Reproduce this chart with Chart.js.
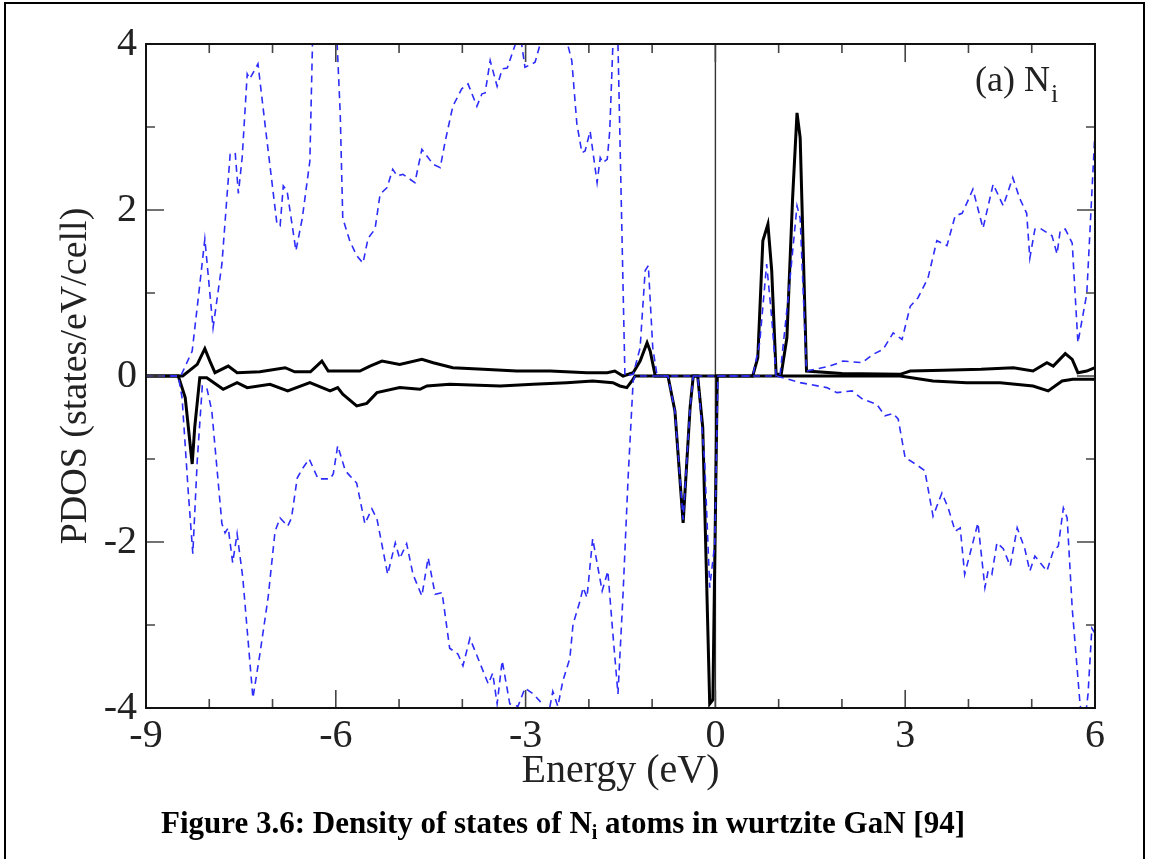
<!DOCTYPE html>
<html>
<head>
<meta charset="utf-8">
<title>PDOS of Ni in wurtzite GaN</title>
<script src="https://cdn.jsdelivr.net/npm/chart.js@4/dist/chart.umd.min.js"></script>
<style>
  html, body { margin: 0; padding: 0; background: #fff; overflow: hidden; }
  #wrap { position: relative; width: 1150px; height: 859px; }
  #frame { position: absolute; left: 4px; top: 2px; width: 1141px; height: 900px;
           border: 2px solid #000; box-sizing: border-box; }
  #pdos { position: absolute; left: 0; top: 0; }
  .serif { font-family: "Liberation Serif", "Times New Roman", serif; color: #222; }
  #tag { position: absolute; left: 975px; top: 61px; font-size: 36px; line-height: 36px; white-space: nowrap; }
  #tag .sub { font-size: 26px; position: relative; top: 11px; margin-left: 1px; }
  #caption { position: absolute; left: 0; width: 1126px; top: 806px; text-align: center;
             font-size: 31px; line-height: 34px; font-weight: bold; color: #000; white-space: nowrap; }
  #caption .sub { font-size: 20px; position: relative; top: 6px; }
</style>
</head>
<body>
<div id="wrap">
  <div id="frame"></div>
  <canvas id="pdos" width="1150" height="859"></canvas>
  <div id="tag" class="serif">(a) N<span class="sub">i</span></div>
  <div id="caption" class="serif">Figure 3.6: Density of states of N<span class="sub">i</span> atoms in wurtzite GaN [94]</div>
</div>
<script>
// axis ticks
const xTicks = [-9, -6, -3, 0, 3, 6];
const yTicks = [-4, -2, 0, 2, 4];

// blue dashed, spin up
const blueUpE = [-9, -8.45, -8.27, -8.15, -8.07, -7.94, -7.80, -7.67, -7.59, -7.54, -7.48, -7.40, -7.36, -7.23, -7.12,
  -6.93, -6.88, -6.83, -6.77, -6.63, -6.53, -6.41, -6.36, -6.2, -6.05, -5.99, -5.93, -5.89, -5.78, -5.67, -5.57,
  -5.49, -5.38, -5.30, -5.19, -5.10, -5.03, -4.94, -4.75, -4.64, -4.56, -4.46, -4.35, -4.27, -4.15, -4.01, -3.91,
  -3.77, -3.69, -3.64, -3.56, -3.45, -3.37, -3.29, -3.17, -3.10, -3.01, -2.90, -2.85, -2.77, -2.6, -2.4, -2.33,
  -2.27, -2.19, -2.11, -2.06, -1.98, -1.87, -1.82, -1.78, -1.71, -1.67, -1.62, -1.58, -1.54, -1.43, -1.30, -1.19,
  -1.11, -1.06, -0.99, -0.92, 0.59, 0.70, 0.81, 0.89, 0.96, 1.02, 1.15, 1.29, 1.34, 1.44, 1.81, 2.02, 2.32, 2.49,
  2.65, 2.81, 2.95, 3.08, 3.20, 3.36, 3.50, 3.66, 3.79, 3.90, 3.99, 4.07, 4.23, 4.39, 4.55, 4.70, 4.81, 4.92, 4.97,
  5.05, 5.13, 5.32, 5.40, 5.45, 5.53, 5.64, 5.73, 5.87, 6.0];
const blueUpPDOS = [0, 0, 0.30, 1.10, 1.65, 0.58, 1.35, 2.67, 2.69, 2.20, 2.63, 3.64, 3.58, 3.76, 3.04,
  1.83, 1.81, 2.29, 2.23, 1.51, 1.90, 2.59, 4.3, 5.5, 4.6, 4.2, 3.16, 1.90, 1.63, 1.45, 1.36,
  1.66, 1.77, 2.19, 2.27, 2.49, 2.41, 2.43, 2.33, 2.73, 2.65, 2.55, 2.51, 2.83, 3.25, 3.46, 3.52,
  3.25, 3.40, 3.41, 3.80, 3.49, 3.70, 3.71, 3.98, 4.2, 3.72, 3.76, 3.78, 4.0, 4.6, 4.5, 3.98,
  3.80, 3.04, 2.69, 2.71, 2.95, 2.33, 2.63, 2.57, 2.61, 2.95, 4.0, 4.8, 4.0, 0, 0.02, 0.34,
  1.27, 1.33, 0.34, 0, 0, 0.40, 1.35, 0.70, 0, 0, 0.94, 2.05, 1.90, 0.06, 0.12, 0.18, 0.16, 0.26,
  0.32, 0.52, 0.44, 0.84, 0.94, 1.18, 1.63, 1.57, 1.93, 1.96, 2.11, 2.25, 1.78, 2.31, 2.05, 2.39, 2.14, 1.96, 1.42,
  1.77, 1.78, 1.69, 1.47, 1.75, 1.77, 1.60, 0.40, 0.99, 2.95];

// blue dashed, spin down
const blueDnE = [-9, -8.49, -8.43, -8.33, -8.26, -8.19, -8.11, -8.04, -7.96, -7.80, -7.75, -7.70, -7.63, -7.56, -7.47,
  -7.31, -7.20, -7.07, -6.96, -6.88, -6.76, -6.70, -6.61, -6.53, -6.42, -6.28, -6.09, -6.04, -5.97, -5.85, -5.78,
  -5.67, -5.54, -5.43, -5.35, -5.18, -5.06, -4.99, -4.88, -4.78, -4.64, -4.54, -4.43, -4.32, -4.20, -4.07, -3.99,
  -3.88, -3.69, -3.59, -3.52, -3.45, -3.37, -3.25, -3.12, -3.01, -2.88, -2.77, -2.67, -2.57, -2.49, -2.41, -2.30,
  -2.25, -2.14, -2.09, -2.03, -1.94, -1.79, -1.70, -1.62, -1.54, -1.46, -1.38, -1.30, -1.27, -0.75, -0.64, -0.51,
  -0.40, -0.35, -0.28, -0.17, -0.09, -0.01, 0.04, 0.97, 1.34, 1.76, 1.92, 2.16, 2.33, 2.55, 2.68, 2.81, 2.89, 3.00,
  3.08, 3.20, 3.31, 3.44, 3.58, 3.68, 3.79, 3.87, 3.94, 4.15, 4.26, 4.31, 4.37, 4.45, 4.55, 4.66, 4.77, 4.89, 4.97,
  5.05, 5.24, 5.34, 5.42, 5.50, 5.56, 5.64, 5.76, 5.82, 5.89, 5.95, 6.0];
const blueDnPDOS = [0, 0, -0.26, -1.42, -2.14, -1.02, -0.12, -0.14, -0.42, -1.78, -1.89, -1.83, -2.25, -1.90, -2.43,
  -3.88, -3.35, -2.67, -1.87, -1.71, -1.81, -1.71, -1.23, -1.12, -1.00, -1.24, -1.24, -1.18, -0.84, -1.14, -1.20,
  -1.29, -1.78, -1.60, -1.72, -2.39, -2.01, -2.20, -2.02, -2.39, -2.65, -2.19, -2.63, -2.61, -3.28, -3.35, -3.49,
  -3.16, -3.52, -3.71, -3.58, -3.95, -3.43, -3.95, -3.98, -3.76, -3.83, -3.92, -4.2, -3.80, -3.98, -3.67, -3.40,
  -2.99, -2.71, -2.55, -2.67, -1.96, -2.59, -2.35, -3.11, -3.83, -2.63, -1.23, -0.06, 0, 0, -0.42, -1.73,
  -0.38, 0, 0, -1.02, -2.55, -2.02, 0, 0, -0.08, -0.14, -0.20, -0.18, -0.28, -0.34, -0.48, -0.45, -0.52, -0.99,
  -1.02, -1.08, -1.14, -1.69, -1.41, -1.59, -1.87, -1.83, -2.39, -1.77, -2.55, -2.35, -2.39, -2.01, -2.08, -2.29, -1.83, -2.08, -2.35,
  -2.17, -2.35, -2.11, -2.05, -1.59, -1.71, -2.80, -3.92, -4.3, -3.83, -3.04, -3.10];

// black solid, spin up
const blackUpE = [-9, -8.42, -8.19, -8.07, -7.99, -7.91, -7.70, -7.56, -7.20, -6.80, -6.65, -6.40, -6.22, -6.12, -5.62,
  -5.46, -5.27, -4.99, -4.64, -4.46, -4.15, -3.67, -3.14, -2.61, -2.03, -1.71, -1.59, -1.46, -1.30, -1.19, -1.08,
  -1.03, -0.95, 0.59, 0.67, 0.75, 0.83, 0.89, 0.96, 1.04, 1.13, 1.22, 1.29, 1.34, 1.44, 2.0, 2.92, 3.08, 3.6, 4.2,
  4.71, 5.02, 5.24, 5.34, 5.53, 5.64, 5.73, 5.87, 6.0];
const blackUpPDOS = [0, 0, 0.14, 0.33, 0.18, 0.04, 0.12, 0.04, 0.05, 0.10, 0.05, 0.05, 0.18, 0.06, 0.06,
  0.12, 0.18, 0.14, 0.20, 0.16, 0.10, 0.08, 0.06, 0.06, 0.04, 0.04, 0.06, 0, 0.04, 0.18, 0.40,
  0.30, 0, 0, 0.22, 1.63, 1.83, 1.27, 0.02, 0.02, 0.46, 2.14, 3.17, 2.87, 0.06, 0.03, 0.02, 0.06, 0.07, 0.08,
  0.10, 0.06, 0.16, 0.12, 0.27, 0.20, 0.04, 0.06, 0.10];

// black solid, spin down
const blackDnE = [-9, -8.49, -8.38, -8.27, -8.23, -8.15, -8.04, -7.78, -7.56, -7.40, -7.04, -6.76, -6.41, -6.09, -5.97,
  -5.89, -5.67, -5.51, -5.35, -4.99, -4.67, -4.56, -4.20, -3.40, -2.88, -2.35, -1.94, -1.62, -1.51, -1.40, -1.32,
  -1.27, -0.75, -0.64, -0.51, -0.40, -0.35, -0.28, -0.20, -0.09, -0.04, 0.03, 2.92, 3.44, 3.97, 4.50, 5.02, 5.26,
  5.48, 5.65, 6.0];
const blackDnPDOS = [0, 0, -0.26, -1.06, -0.62, -0.02, -0.02, -0.16, -0.08, -0.14, -0.10, -0.18, -0.08, -0.18, -0.14,
  -0.22, -0.36, -0.33, -0.20, -0.14, -0.16, -0.12, -0.10, -0.12, -0.10, -0.08, -0.06, -0.08, -0.12, -0.14, -0.06,
  0, 0, -0.42, -1.77, -0.38, 0, 0, -0.62, -3.95, -3.90, 0, 0, -0.06, -0.08, -0.08, -0.12, -0.18,
  -0.06, -0.04, -0.04];

function pts(es, vs) {
  return es.map((e, i) => ({ x: e, y: vs[i] }));
}

const serif = '"Liberation Serif", "Times New Roman", serif';
const blue = 'rgb(45,45,250)';

// inward ticks on all four sides, the box, and the vertical line at E = 0
const framePlugin = {
  id: 'frame',
  beforeDatasetsDraw(chart) {
    const { ctx, chartArea: a, scales: { x } } = chart;
    const x0 = x.getPixelForValue(0);
    ctx.save();
    ctx.strokeStyle = '#333';
    ctx.lineWidth = 1.4;
    ctx.beginPath();
    ctx.moveTo(x0, a.top);
    ctx.lineTo(x0, a.bottom);
    ctx.stroke();
    ctx.restore();
  },
  afterDatasetsDraw(chart) {
    const { ctx, chartArea: a, scales: { x, y } } = chart;
    ctx.save();
    ctx.strokeStyle = '#444';
    ctx.lineWidth = 1.6;
    ctx.beginPath();
    for (let v = -9; v <= 6; v++) {
      const px = x.getPixelForValue(v);
      const len = v % 3 === 0 ? 18 : 9;
      ctx.moveTo(px, a.bottom); ctx.lineTo(px, a.bottom - len);
      ctx.moveTo(px, a.top); ctx.lineTo(px, a.top + len);
    }
    for (let v = -4; v <= 4; v++) {
      const py = y.getPixelForValue(v);
      const len = v % 2 === 0 ? 18 : 9;
      ctx.moveTo(a.left, py); ctx.lineTo(a.left + len, py);
      ctx.moveTo(a.right, py); ctx.lineTo(a.right - len, py);
    }
    ctx.stroke();
    ctx.strokeStyle = '#111';
    ctx.lineWidth = 2;
    ctx.strokeRect(a.left, a.top, a.right - a.left, a.bottom - a.top);
    ctx.restore();
  }
};

new Chart(document.getElementById('pdos'), {
  type: 'line',
  data: {
    datasets: [
      { label: 'PDOS up (dashed)', data: pts(blueUpE, blueUpPDOS), borderColor: blue, borderWidth: 1.6, borderDash: [7, 5] },
      { label: 'PDOS down (dashed)', data: pts(blueDnE, blueDnPDOS), borderColor: blue, borderWidth: 1.6, borderDash: [7, 5] },
      { label: 'PDOS up', data: pts(blackUpE, blackUpPDOS), borderColor: '#000', borderWidth: 3 },
      { label: 'PDOS down', data: pts(blackDnE, blackDnPDOS), borderColor: '#000', borderWidth: 3 }
    ]
  },
  options: {
    responsive: false,
    animation: false,
    devicePixelRatio: 1,
    datasets: { line: { pointRadius: 0, tension: 0, fill: false, clip: 0 } },
    layout: { padding: { top: 44, right: 55, left: 0, bottom: 0 } },
    plugins: { legend: { display: false }, tooltip: { enabled: false } },
    scales: {
      x: {
        type: 'linear', min: -9, max: 6,
        afterBuildTicks: s => { s.ticks = xTicks.map(v => ({ value: v })); },
        afterFit: s => { s.height = 151; },
        grid: { display: false, drawTicks: false },
        border: { display: false },
        ticks: { color: '#222', padding: 4, maxRotation: 0, font: { family: serif, size: 40 } },
        title: { display: true, text: 'Energy (eV)', color: '#222', padding: { top: 0, bottom: 64 },
                 font: { family: serif, size: 40, lineHeight: 1.2 } }
      },
      y: {
        type: 'linear', min: -4, max: 4,
        afterBuildTicks: s => { s.ticks = yTicks.map(v => ({ value: v })); },
        afterFit: s => { s.width = 146; },
        grid: { display: false, drawTicks: false },
        border: { display: false },
        ticks: { color: '#222', padding: 9, font: { family: serif, size: 40 } },
        title: { display: true, text: 'PDOS (states/eV/cell)', color: '#222', padding: { top: 53, bottom: 0 },
                 font: { family: serif, size: 38, lineHeight: 1.2 } }
      }
    }
  },
  plugins: [framePlugin]
});
</script>
</body>
</html>
